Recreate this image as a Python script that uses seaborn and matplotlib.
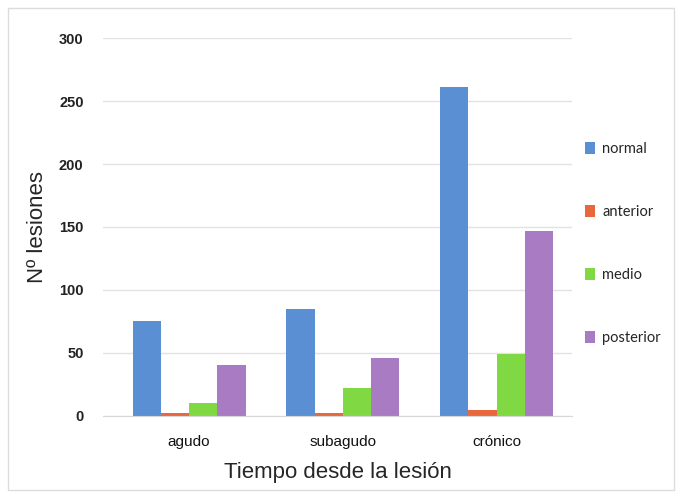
import pandas as pd
import matplotlib.pyplot as plt
import seaborn as sns
from matplotlib.patches import Rectangle

# data
tiempo = ['agudo', 'subagudo', 'crónico']
normal = [75, 85, 261]
anterior = [2, 2, 5]
medio = [10, 22, 49]
posterior = [40, 46, 147]
series = ['normal', 'anterior', 'medio', 'posterior']
colores = ['#5b8fd4', '#e8673c', '#80d843', '#a97bc3']

df = pd.DataFrame({'tiempo': tiempo, 'normal': normal, 'anterior': anterior,
                   'medio': medio, 'posterior': posterior})
df = df.melt(id_vars='tiempo', var_name='serie', value_name='n')

sns.set_style('white')
plt.rcParams['font.family'] = ['Liberation Sans', 'DejaVu Sans']

fig = plt.figure(figsize=(6.81, 4.95), dpi=100)
ax = fig.add_axes([103 / 681, 0.160, 469 / 681, 0.763])

sns.barplot(data=df, x='tiempo', y='n', hue='serie', hue_order=series,
            order=tiempo, palette=colores, width=0.735, gap=0,
            saturation=1, linewidth=0, ax=ax, legend=True)

ax.set_ylim(0, 300)
ax.set_xlim(-0.56, 2.49)
ax.set_yticks(range(0, 301, 50))
ax.yaxis.grid(True, color='#e2e2e2', linewidth=1)
ax.set_axisbelow(True)
for s in ['top', 'right', 'left']:
    ax.spines[s].set_visible(False)
ax.spines['bottom'].set_color('#d8d8d8')
ax.tick_params(axis='y', length=0, pad=14, labelsize=10.5, labelcolor='#222222')
ax.tick_params(axis='x', length=0, pad=14, labelsize=11, labelcolor='#111111')
for t in ax.get_yticklabels():
    t.set_fontweight('bold')
ax.set_xticks([0.5, 1.5], minor=True)
ax.tick_params(axis='x', which='minor', length=4, color='#d8d8d8', direction='out')

ax.set_ylabel('Nº lesiones', fontsize=16, labelpad=8)
ax.set_xlabel('Tiempo desde la lesión', fontsize=16, labelpad=9)

leg = ax.legend(loc='upper left', bbox_to_anchor=(1.015, 0.74), frameon=False,
                prop={'family': 'Lato', 'size': 10.5}, handlelength=0.7,
                handleheight=0.9, handletextpad=0.5, labelspacing=3.35,
                borderaxespad=0)

fig.patches.append(Rectangle((8 / 681, 5 / 495), 666 / 681, 482 / 495,
                             transform=fig.transFigure, fill=False,
                             edgecolor='#dcdcdc', linewidth=1))

fig.savefig('out.png', dpi=100)
